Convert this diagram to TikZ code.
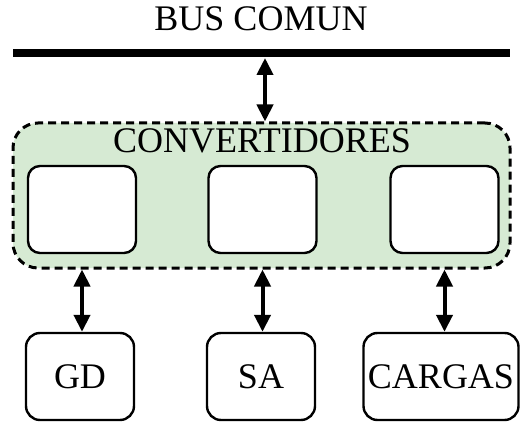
\documentclass[tikz,border=0pt]{standalone}
\usepackage{fontspec}
\setmainfont{Liberation Serif}
\usetikzlibrary{arrows.meta}
\definecolor{convgreen}{RGB}{214,234,211}
\tikzset{
  bigtext/.style={font=\fontsize{36}{40}\selectfont, inner sep=0pt},
  convbox/.style={draw, line width=2.4pt, rounded corners=12pt, fill=white, minimum width=108pt, minimum height=87pt, inner sep=0pt},
  unitbox/.style={draw, line width=2.4pt, rounded corners=14pt, fill=white, minimum height=87pt, inner sep=0pt, font=\fontsize{36}{40}\selectfont},
  container/.style={draw, line width=3pt, dash pattern=on 8pt off 5pt, rounded corners=25pt, fill=convgreen, minimum width=497pt, minimum height=145pt, inner sep=0pt},
  dblarrow/.style={line width=4pt, {Triangle[length=17pt,width=16pt]}-{Triangle[length=17pt,width=16pt]}},
}
\begin{document}
\begin{tikzpicture}[x=1pt,y=1pt]
\useasboundingbox (0,0) rectangle (521,423);
% bus
\coordinate (busL) at (13,370);
\coordinate (busR) at (510,370);
\draw[line width=7.5pt] (busL) -- (busR);
\node[bigtext, anchor=base] (bustext) at (261,392) {BUS COMUN};
% container
\node[container] (conv) at (261.5,227.5) {};
\node[bigtext, anchor=base] (convtext) at (262,270) {CONVERTIDORES};
\node[convbox] (c1) at (82,213.5) {};
\node[convbox] (c2) at (262.5,213.5) {};
\node[convbox] (c3) at (444.5,213.5) {};
% bottom units
\node[unitbox, minimum width=108pt] (gd) at (80,46.5) {GD};
\node[unitbox, minimum width=108pt] (sa) at (261,46.5) {SA};
\node[unitbox, minimum width=155pt] (cargas) at (441,46.5) {CARGAS};
% arrows
\coordinate (busA) at (265,365);
\draw[dblarrow] (busA) -- (busA |- conv.north);
\draw[dblarrow] (c1 |- conv.south) -- (c1 |- gd.north);
\draw[dblarrow] (c2 |- conv.south) -- (c2 |- sa.north);
\draw[dblarrow] (c3 |- conv.south) -- (c3 |- cargas.north);
\end{tikzpicture}
\end{document}
